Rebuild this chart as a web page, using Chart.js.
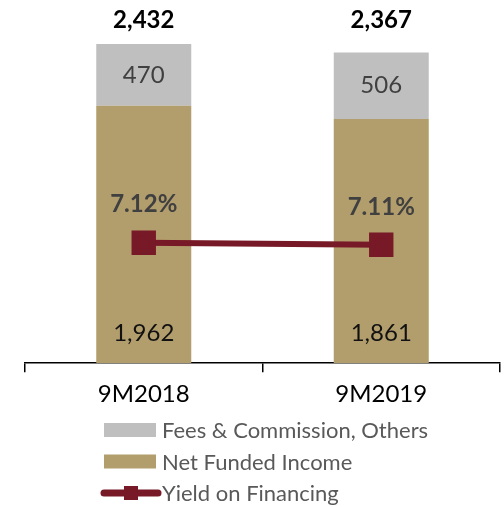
<!DOCTYPE html>
<html>
<head>
<meta charset="utf-8">
<script src="https://cdn.jsdelivr.net/npm/chart.js@4.4.0/dist/chart.umd.min.js"></script>
<style>
  body { margin: 0; background: #fff; }
  #wrap { width: 504px; height: 507px; }
</style>
</head>
<body>
<div id="wrap"><canvas id="myChart"></canvas></div>
<script>
var categories = ['9M2018', '9M2019'];
var netFunded = [1962, 1861];
var feesOthers = [470, 506];
var totals = [2432, 2367];
var yieldPct = [7.12, 7.11];

var FONT = 'Lato, "Liberation Sans", sans-serif';
var GOLD = '#b29d6c';
var GREY = '#bfbfbf';
var MAROON = '#771926';

function fmt(n) {
    return n.toLocaleString('en-US');
}

var labelPlugin = {
    id: 'labels',
    afterDatasetsDraw: function (chart) {
        var ctx = chart.ctx;
        var area = chart.chartArea;
        var y = chart.scales.y;
        ctx.save();
        ctx.textAlign = 'center';
        ctx.textBaseline = 'middle';

        var nfiMeta = chart.getDatasetMeta(0);
        var feeMeta = chart.getDatasetMeta(1);
        var lineMeta = chart.getDatasetMeta(2);

        nfiMeta.data.forEach(function (bar, i) {
            ctx.font = '24px ' + FONT;
            ctx.fillStyle = '#111';
            ctx.fillText(fmt(netFunded[i]), bar.x, y.getPixelForValue(0) - 30);
        });
        feeMeta.data.forEach(function (bar, i) {
            ctx.font = '24px ' + FONT;
            ctx.fillStyle = '#404040';
            ctx.fillText(fmt(feesOthers[i]), bar.x, (bar.y + bar.base) / 2);
            ctx.font = 'bold 24px ' + FONT;
            ctx.fillStyle = '#000';
            ctx.fillText(fmt(totals[i]), bar.x, area.top - 15);
        });
        lineMeta.data.forEach(function (pt, i) {
            ctx.font = 'bold 24px ' + FONT;
            ctx.fillStyle = '#404040';
            ctx.fillText(yieldPct[i].toFixed(2) + '%', pt.x, pt.y - 38);
        });
        ctx.restore();
    },
    afterDraw: function (chart) {
        // legend, stacked vertically and left aligned
        var ctx = chart.ctx;
        var items = [
            { text: 'Fees & Commission, Others', color: GREY, type: 'box' },
            { text: 'Net Funded Income', color: GOLD, type: 'box' },
            { text: 'Yield on Financing', color: MAROON, type: 'line' }
        ];
        var x0 = 104, y0 = 430, step = 31.5;
        ctx.save();
        ctx.font = '22px ' + FONT;
        ctx.textBaseline = 'middle';
        ctx.textAlign = 'left';
        items.forEach(function (it, i) {
            var cy = y0 + i * step;
            if (it.type === 'box') {
                ctx.fillStyle = it.color;
                ctx.fillRect(x0, cy - 7, 52, 14);
            } else {
                ctx.strokeStyle = it.color;
                ctx.lineWidth = 7;
                ctx.lineCap = 'round';
                ctx.beginPath();
                ctx.moveTo(x0, cy);
                ctx.lineTo(x0 + 54, cy);
                ctx.stroke();
                ctx.fillStyle = it.color;
                ctx.fillRect(x0 + 20, cy - 7, 14, 14);
            }
            ctx.fillStyle = '#595959';
            ctx.fillText(it.text, x0 + 58, cy + 1);
        });
        ctx.restore();
    }
};

var ctx = document.getElementById('myChart').getContext('2d');

var data = {
    labels: categories,
    datasets: [
        {
            type: 'bar',
            label: 'Net Funded Income',
            data: netFunded,
            backgroundColor: GOLD,
            yAxisID: 'y',
            order: 2
        },
        {
            type: 'bar',
            label: 'Fees & Commission, Others',
            data: feesOthers,
            backgroundColor: GREY,
            yAxisID: 'y',
            order: 2
        },
        {
            type: 'line',
            label: 'Yield on Financing',
            data: yieldPct,
            borderColor: MAROON,
            backgroundColor: MAROON,
            borderWidth: 6,
            pointStyle: 'rect',
            pointRadius: 13,
            pointHoverRadius: 13,
            yAxisID: 'y1',
            order: 1
        }
    ]
};

var options = {
    responsive: true,
    maintainAspectRatio: false,
    animation: false,
    layout: { autoPadding: false, padding: { top: 35, left: 25, right: 4, bottom: 90 } },
    datasets: {
        bar: { barPercentage: 0.4, categoryPercentage: 1 }
    },
    plugins: {
        legend: { display: false },
        tooltip: { enabled: false }
    },
    scales: {
        x: {
            stacked: true,
            offset: true,
            grid: {
                offset: true,
                drawOnChartArea: false,
                drawTicks: true,
                tickLength: 9,
                color: '#000',
                lineWidth: 1.5
            },
            border: { display: true, color: '#000', width: 1.5 },
            ticks: {
                color: '#000',
                padding: 8,
                font: { family: FONT, size: 24 }
            }
        },
        y: {
            stacked: true,
            display: false,
            min: 0,
            max: 2500
        },
        y1: {
            display: false,
            position: 'right',
            min: 6.52,
            max: 8.155
        }
    }
};

var myChart = new Chart(ctx, {
    type: 'bar',
    data: data,
    options: options,
    plugins: [labelPlugin]
});
</script>
</body>
</html>
